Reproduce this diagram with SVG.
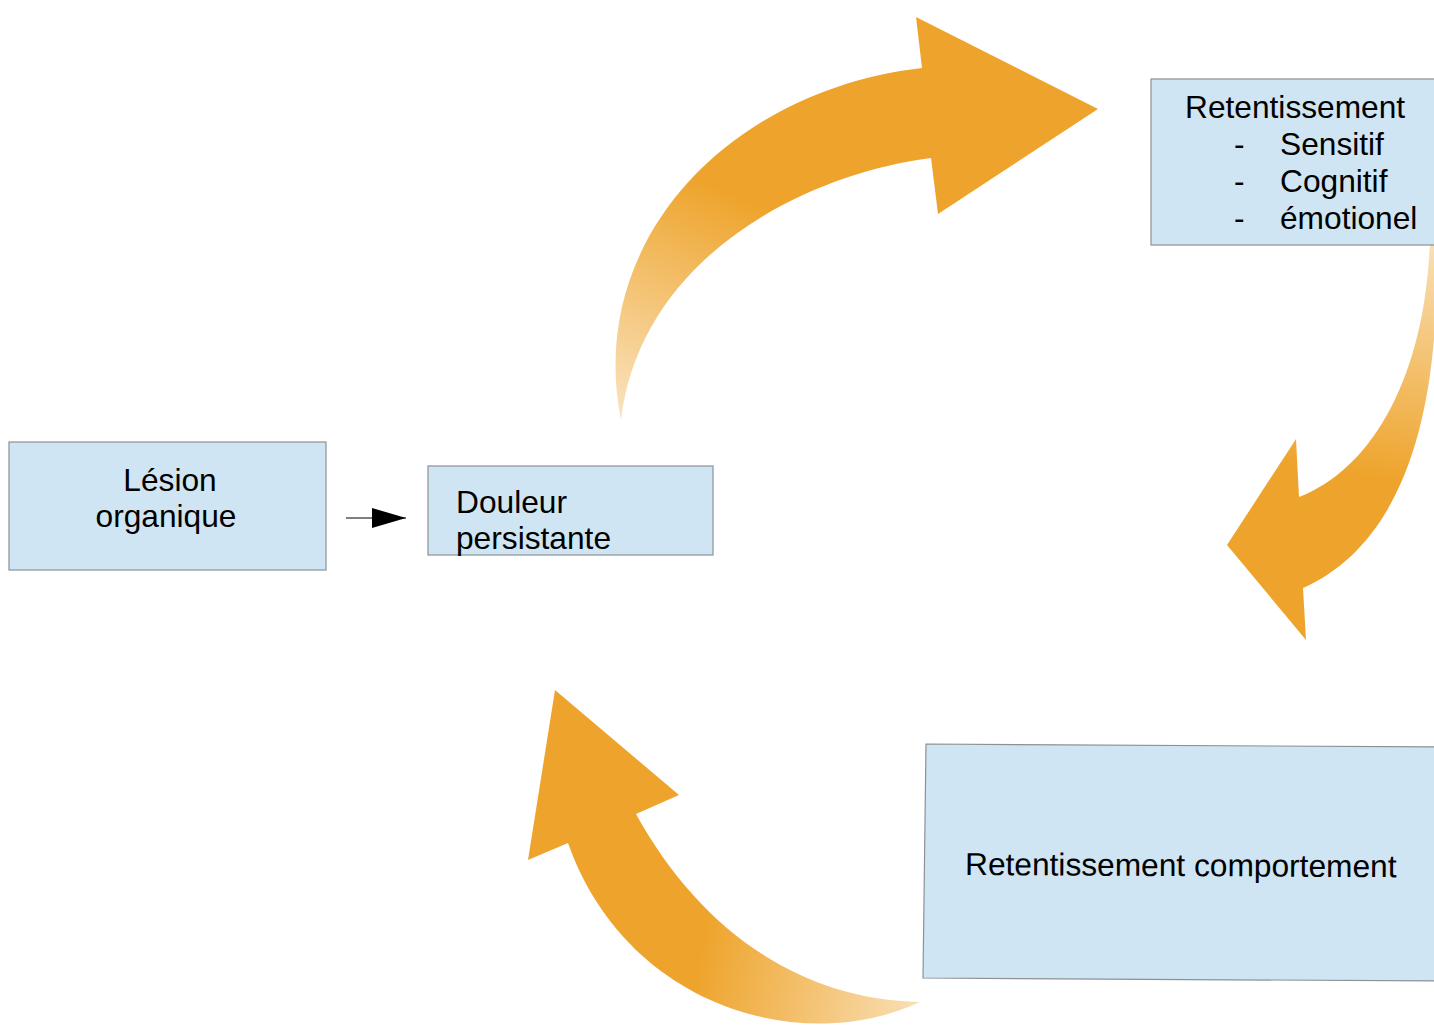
<svg xmlns="http://www.w3.org/2000/svg" width="1434" height="1030" viewBox="0 0 1434 1030">
<style>
.box{fill:#cfe5f3;stroke:#8a9197;stroke-width:1.2}
.t{font-family:"Liberation Sans",Arial,sans-serif;font-size:31.7px;fill:#000}
</style>
<defs>
<linearGradient id="g1" gradientUnits="userSpaceOnUse" x1="621" y1="420" x2="720" y2="190">
<stop offset="0" stop-color="#eea42c" stop-opacity="0.3"/>
<stop offset="1" stop-color="#eea42c"/>
</linearGradient>
<linearGradient id="g2" gradientUnits="userSpaceOnUse" x1="1433" y1="245" x2="1400" y2="480">
<stop offset="0" stop-color="#eea42c" stop-opacity="0.35"/>
<stop offset="1" stop-color="#eea42c"/>
</linearGradient>
<linearGradient id="g3" gradientUnits="userSpaceOnUse" x1="700" y1="960" x2="920" y2="1000">
<stop offset="0" stop-color="#eea42c"/>
<stop offset="1" stop-color="#eea42c" stop-opacity="0.35"/>
</linearGradient>
<marker id="ah" viewBox="0 0 34 20" refX="34" refY="10" markerWidth="34" markerHeight="20" markerUnits="userSpaceOnUse" orient="auto">
<path d="M0 0 L34 10 L0 20 Z" fill="#000"/>
</marker>
</defs>
<g id="connectors">
<path id="arrow-top" d="M621 420 C585 240 730 90 922 68 L916 17 L1098 109 L938 214 L931 158 C800 175 640 260 621 420 Z" fill="url(#g1)"/>
<path id="arrow-right" d="M1436 240 C1442 420 1400 545 1303 588 L1306 640 L1227 545 L1296 439 L1299 497 C1370 470 1425 380 1430 240 Z" fill="url(#g2)"/>
<path id="arrow-bottom" d="M920 1002 C800 1058 625 1005 568 843 L528 860 L555 690 L679 795 L636 814 C700 930 800 1000 920 1002 Z" fill="url(#g3)"/>
<line x1="346" y1="518" x2="406" y2="518" stroke="#000" stroke-width="1.2" marker-end="url(#ah)"/>
</g>
<g id="lesion">
<rect class="box" x="9" y="442" width="317" height="128"/>
<text class="t" x="170" y="491" text-anchor="middle">Lésion</text>
<text class="t" x="166" y="527" text-anchor="middle">organique</text>
</g>
<g id="douleur">
<rect class="box" x="428" y="466" width="285" height="89"/>
<text class="t" x="456" y="513">Douleur</text>
<text class="t" x="456" y="549">persistante</text>
</g>
<g id="retentissement">
<rect class="box" x="1151" y="79" width="290" height="166"/>
<text class="t" x="1185" y="118">Retentissement</text>
<text class="t" x="1234" y="155">-</text>
<text class="t" x="1280" y="155">Sensitif</text>
<text class="t" x="1234" y="192">-</text>
<text class="t" x="1280" y="192">Cognitif</text>
<text class="t" x="1234" y="229">-</text>
<text class="t" x="1280" y="229">émotionel</text>
</g>
<g id="comportement">
<polygon class="box" points="926,744 1440,747 1440,981 923,978"/>
<text class="t" x="965" y="875" transform="rotate(0.3 965 875)">Retentissement comportement</text>
</g>
</svg>
